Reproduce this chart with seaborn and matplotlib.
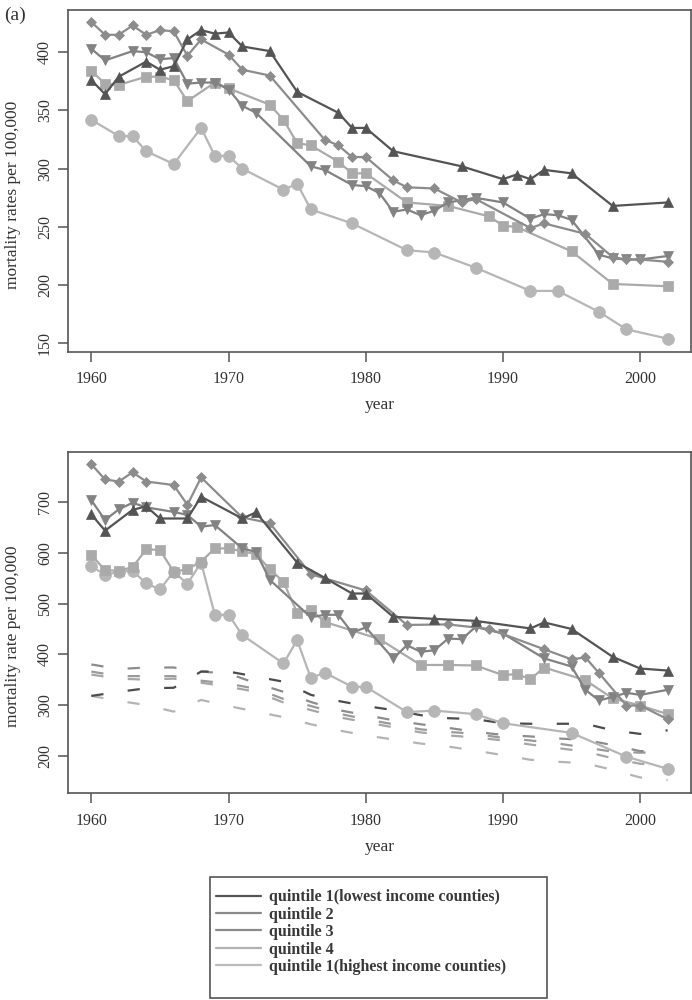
import seaborn as sns
import matplotlib.pyplot as plt
from matplotlib.lines import Line2D
from matplotlib.patches import Rectangle

# ---- panel (a), top: mortality rates per 100,000 ----
top_q1_years = [1960, 1961, 1962, 1964, 1965, 1966, 1967, 1968, 1969, 1970, 1971, 1973, 1975,
                1978, 1979, 1980, 1982, 1987, 1990, 1991, 1992, 1993, 1995, 1998, 2002]
top_q1_rates = [376, 364, 379, 392, 385, 388, 411, 419, 416, 417, 405, 401, 366,
                348, 335, 335, 315, 302, 291, 295, 291, 299, 296, 268, 271]

top_q2_years = [1960, 1961, 1962, 1963, 1964, 1965, 1966, 1967, 1968, 1970, 1971, 1973, 1977, 1978,
                1979, 1980, 1982, 1983, 1985, 1987, 1988, 1992, 1993, 1996, 1998, 1999, 2000, 2002]
top_q2_rates = [426, 415, 415, 423, 415, 419, 418, 397, 411, 398, 385, 380, 325, 320,
                310, 310, 290, 284, 283, 271, 274, 249, 253, 244, 224, 222, 222, 220]

top_q3_years = [1960, 1961, 1963, 1964, 1965, 1966, 1967, 1968, 1969, 1970, 1971, 1972, 1976, 1977,
                1979, 1980, 1981, 1982, 1983, 1984, 1985, 1986, 1987, 1988, 1990, 1992, 1993, 1994,
                1995, 1997, 1998, 1999, 2000, 2002]
top_q3_rates = [403, 393, 401, 400, 394, 395, 373, 374, 374, 368, 354, 348, 302, 299,
                286, 285, 279, 263, 265, 260, 264, 271, 273, 275, 271, 257, 261, 260,
                256, 226, 223, 222, 222, 225]

top_q4_years = [1960, 1961, 1962, 1964, 1965, 1966, 1967, 1969, 1970, 1973, 1974, 1975, 1976, 1978,
                1979, 1980, 1983, 1986, 1989, 1990, 1991, 1995, 1998, 2002]
top_q4_rates = [384, 373, 372, 379, 379, 376, 358, 374, 369, 355, 342, 322, 320, 306,
                296, 296, 271, 268, 259, 251, 250, 229, 201, 199]

top_q5_years = [1960, 1962, 1963, 1964, 1966, 1968, 1969, 1970, 1971, 1974, 1975, 1976, 1979, 1983,
                1985, 1988, 1992, 1994, 1997, 1999, 2002]
top_q5_rates = [342, 328, 328, 315, 304, 335, 311, 311, 300, 282, 287, 265, 253, 230,
                228, 215, 195, 195, 177, 162, 154]

# ---- bottom panel: mortality rate per 100,000 ----
bot_q1_years = [1960, 1961, 1963, 1964, 1965, 1967, 1968, 1971, 1972, 1975, 1977, 1979, 1980, 1982,
                1985, 1988, 1992, 1993, 1995, 1998, 2000, 2002]
bot_q1_rates = [676, 644, 685, 692, 668, 668, 711, 668, 680, 581, 551, 520, 520, 474,
                470, 466, 451, 463, 450, 395, 372, 368]

bot_q2_years = [1960, 1961, 1962, 1963, 1964, 1966, 1967, 1968, 1971, 1973, 1976, 1980, 1983, 1986,
                1989, 1993, 1995, 1996, 1997, 1999, 2000, 2002]
bot_q2_rates = [775, 745, 741, 759, 741, 734, 695, 749, 670, 659, 558, 526, 458, 459,
                450, 410, 390, 394, 363, 299, 299, 272]

bot_q3_years = [1960, 1961, 1962, 1963, 1964, 1966, 1967, 1968, 1969, 1971, 1972, 1973, 1976, 1977,
                1978, 1979, 1980, 1982, 1983, 1984, 1985, 1986, 1987, 1988, 1990, 1993, 1995, 1996,
                1997, 1998, 1999, 2000, 2002]
bot_q3_rates = [704, 665, 686, 699, 690, 681, 675, 652, 655, 609, 602, 547, 473, 478,
                478, 443, 453, 392, 418, 405, 408, 431, 430, 454, 441, 392, 376, 330,
                309, 316, 324, 320, 330]

bot_q4_years = [1960, 1961, 1962, 1963, 1964, 1965, 1966, 1967, 1968, 1969, 1970, 1971, 1972, 1973,
                1974, 1975, 1976, 1977, 1981, 1984, 1986, 1988, 1990, 1991, 1992, 1993, 1996, 1998,
                2000, 2002]
bot_q4_rates = [596, 566, 565, 572, 607, 606, 563, 568, 583, 609, 609, 603, 598, 568,
                543, 482, 488, 464, 430, 379, 379, 378, 359, 361, 351, 374, 349, 313,
                299, 282]

bot_q5_years = [1960, 1961, 1962, 1963, 1964, 1965, 1966, 1967, 1968, 1969, 1970, 1971, 1974, 1975,
                1976, 1977, 1979, 1980, 1983, 1985, 1988, 1990, 1995, 1999, 2002]
bot_q5_rates = [574, 557, 563, 565, 540, 528, 563, 539, 581, 478, 478, 438, 382, 428,
                353, 364, 336, 336, 286, 289, 282, 264, 245, 198, 174]

# dashed reference lines in the bottom panel
dash_years = [1960, 1962, 1964, 1966, 1968, 1970, 1972, 1974, 1976, 1978, 1980,
              1982, 1984, 1986, 1988, 1990, 1992, 1994, 1996, 1998, 2000, 2002]
dash_q1 = [318, 326, 333, 334, 366, 366, 356, 346, 320, 308, 298, 290, 280, 274, 272, 264, 263, 263, 263, 250, 243, 250]
dash_q2 = [380, 371, 374, 374, 366, 362, 343, 326, 306, 290, 280, 270, 262, 255, 247, 241, 238, 234, 231, 221, 209, 210]
dash_q3 = [366, 357, 357, 357, 348, 342, 332, 312, 298, 283, 272, 262, 252, 247, 243, 235, 230, 224, 216, 208, 206, 207]
dash_q4 = [360, 352, 350, 352, 344, 336, 326, 305, 290, 276, 266, 256, 246, 240, 236, 230, 222, 215, 208, 195, 184, 183]
dash_q5 = [318, 308, 300, 287, 310, 298, 287, 276, 262, 250, 240, 232, 224, 218, 210, 201, 192, 188, 185, 172, 157, 152]

legend_labels = ["quintile 1(lowest income counties)", "quintile 2", "quintile 3",
                 "quintile 4", "quintile 1(highest income counties)"]

colors = ["#545454", "#8c8c8c", "#828282", "#aaaaaa", "#b6b6b6"]
markers = ["^", "D", "v", "s", "o"]
msizes = [7.5, 5.5, 7.5, 6.5, 8.5]
dash_colors = ["#4c4c4c", "#8c8c8c", "#9a9a9a", "#a6a6a6", "#b4b4b4"]

sns.set_theme(style="ticks")
plt.rcParams["font.family"] = ["Liberation Serif", "DejaVu Serif"]
text_col = "#333333"
frame_col = "#555555"

fig = plt.figure(figsize=(6.92, 10), dpi=100)
ax_top = fig.add_axes([0.0987, 0.6483, 0.8994, 0.3417])
ax_bot = fig.add_axes([0.0987, 0.2067, 0.8994, 0.3416])


def draw_series(ax, years, rates, i):
    sns.lineplot(x=years, y=rates, ax=ax, color=colors[i], lw=1.6, marker=markers[i],
                 markersize=msizes[i], markeredgecolor=colors[i], markerfacecolor=colors[i],
                 markeredgewidth=0.5, errorbar=None)


top_sets = [(top_q1_years, top_q1_rates), (top_q2_years, top_q2_rates), (top_q3_years, top_q3_rates),
            (top_q4_years, top_q4_rates), (top_q5_years, top_q5_rates)]
bot_sets = [(bot_q1_years, bot_q1_rates), (bot_q2_years, bot_q2_rates), (bot_q3_years, bot_q3_rates),
            (bot_q4_years, bot_q4_rates), (bot_q5_years, bot_q5_rates)]
dash_sets = [dash_q1, dash_q2, dash_q3, dash_q4, dash_q5]

# draw lighter series first so the darker ones sit on top
for i in [4, 3, 2, 1, 0]:
    draw_series(ax_top, *top_sets[i], i)

for i in [4, 3, 2, 1, 0]:
    sns.lineplot(x=dash_years, y=dash_sets[i], ax=ax_bot, color=dash_colors[i], lw=1.6,
                 errorbar=None)
    ax_bot.lines[-1].set_dashes([5.5, 11.0])
for i in [4, 3, 2, 1, 0]:
    draw_series(ax_bot, *bot_sets[i], i)

ax_top.set_ylim(142.8, 436.3)
ax_top.set_yticks([150, 200, 250, 300, 350, 400])
ax_bot.set_ylim(125.8, 799.8)
ax_bot.set_yticks([200, 300, 400, 500, 600, 700])

for ax, ylab in [(ax_top, "mortality rates per 100,000"), (ax_bot, "mortality rate per 100,000")]:
    ax.set_xlim(1958.32, 2003.68)
    ax.set_xticks([1960, 1970, 1980, 1990, 2000])
    for side in ["left", "right", "top", "bottom"]:
        ax.spines[side].set_visible(True)
        ax.spines[side].set_color(frame_col)
        ax.spines[side].set_linewidth(1.2)
    ax.tick_params(direction="out", length=7, width=1.1, color=frame_col,
                   labelsize=11.5, labelcolor=text_col)
    ax.tick_params(axis="x", pad=7)
    ax.tick_params(axis="y", pad=4)
    for lab in ax.get_yticklabels():
        lab.set_rotation(90)
        lab.set_va("center")
        lab.set_ha("right")
    ax.set_xlabel("year", fontsize=12.5, color=text_col)
    ax.xaxis.set_label_coords(0.5, -0.156)
    ax.xaxis.label.set_va("center")
    ax.set_ylabel(ylab, fontsize=12.5, color=text_col)
    ax.yaxis.set_label_coords(-0.089, 0.46)
    ax.yaxis.label.set_va("center")
    ax.yaxis.label.set_ha("center")
    ax.grid(False)

fig.text(0.006, 0.985, "(a)", fontsize=14, color=text_col, va="center", ha="left")

# legend: text entries without frame, plus a separate box like the original
handles = [Line2D([0], [0], color=c, lw=1.6) for c in ["#555555", "#8a8a8a", "#8a8a8a", "#b0b0b0", "#bcbcbc"]]
leg = fig.legend(handles, legend_labels, loc="upper left", bbox_to_anchor=(0.312, 0.1108),
                 frameon=False, fontsize=11.5, labelspacing=0.09,
                 handlelength=2.8, handletextpad=0.5, borderpad=0.0, borderaxespad=0)
for t in leg.get_texts():
    t.set_color("#383838")
    t.set_fontweight("bold")
fig.patches.append(Rectangle((0.3035, 0.002), 0.4870, 0.121, transform=fig.transFigure,
                             fill=False, edgecolor=frame_col, linewidth=1.2))

fig.savefig("out.png", dpi=100)
